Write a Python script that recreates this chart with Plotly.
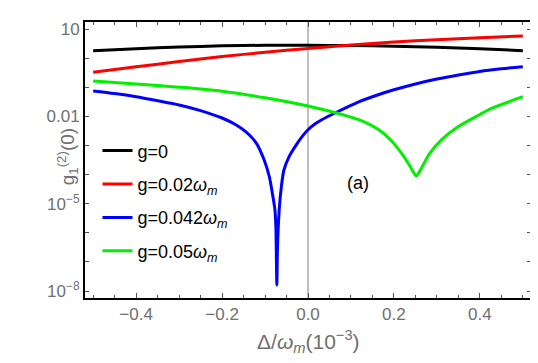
import plotly.graph_objects as go

# detuning samples, Delta/omega_m in units of 1e-3
x_coarse = [-0.5, -0.4, -0.3, -0.2, -0.1, 0.0, 0.1, 0.2, 0.3, 0.4, 0.5]

# g=0 and g=0.02 wm  (values of g1^(2)(0))
g2_g0 = [1.84, 2.14, 2.45, 2.69, 2.82, 2.82, 2.75, 2.63, 2.40, 2.14, 1.84]
g2_g002 = [0.331, 0.513, 0.776, 1.15, 1.62, 2.19, 2.88, 3.63, 4.37, 5.13, 5.89]

# g=0.042 wm : deep antiresonance near -0.073
x_g0042 = [-0.5, -0.45, -0.4, -0.35, -0.3, -0.25, -0.2, -0.17, -0.145, -0.12,
           -0.102, -0.09, -0.083, -0.077, -0.0748, -0.0735, -0.0725, -0.071,
           -0.067, -0.062, -0.056, -0.044, -0.025, -0.012, 0.0, 0.016, 0.033,
           0.064, 0.118, 0.16, 0.2, 0.25, 0.3, 0.35, 0.4, 0.45, 0.5]
g2_g0042 = [7.6e-2, 6.2e-2, 4.8e-2, 3.5e-2, 2.5e-2, 1.6e-2, 8.9e-3, 5.4e-3,
            3.0e-3, 1.2e-3, 3.2e-4, 8.5e-5, 2.3e-5, 6.2e-6, 1.6e-6, 1.2e-7,
            1.6e-8, 3.0e-7, 6.2e-6, 3.9e-5, 1.45e-4, 4.2e-4, 1.2e-3, 2.2e-3,
            3.5e-3, 5.5e-3, 7.9e-3, 1.35e-2, 3.2e-2, 5.4e-2, 8.3e-2, 0.132,
            0.195, 0.269, 0.355, 0.437, 0.519]

# g=0.05 wm : shallower, rounded dip near 0.25
x_g005 = [-0.5, -0.4, -0.3, -0.2, -0.1, 0.0, 0.064, 0.09, 0.118, 0.142, 0.164,
          0.185, 0.204, 0.222, 0.238, 0.246, 0.252, 0.258, 0.266, 0.284, 0.311,
          0.35, 0.4, 0.427, 0.5]
g2_g005 = [0.166, 0.132, 0.102, 7.4e-2, 4.4e-2, 2.3e-2, 1.35e-2, 1.05e-2,
           7.8e-3, 5.5e-3, 3.55e-3, 2.0e-3, 1.0e-3, 4.4e-4, 1.9e-4, 1.17e-4,
           9.1e-5, 1.17e-4, 1.9e-4, 5.6e-4, 1.6e-3, 4.5e-3, 1.17e-2, 1.9e-2,
           4.8e-2]

series = [
    ("g=0", x_coarse, g2_g0, "#000000"),
    ("g=0.02<i>ω</i><sub><i>m</i></sub>", x_coarse, g2_g002, "#ff0000"),
    ("g=0.042<i>ω</i><sub><i>m</i></sub>", x_g0042, g2_g0042, "#0000ff"),
    ("g=0.05<i>ω</i><sub><i>m</i></sub>", x_g005, g2_g005, "#00f000"),
]

y_tickvals = [10, 1, 0.1, 0.01, 1e-3, 1e-4, 1e-5, 1e-6, 1e-7, 1e-8]
y_ticktext = ["10", "", "", "0.01", "", "", "10<sup>−5</sup>", "", "", "10<sup>−8</sup>"]
x_tickvals = [-0.4, -0.2, 0.0, 0.2, 0.4]
x_ticktext = ["−0.4", "−0.2", "0.0", "0.2", "0.4"]

FONT = "Liberation Sans, Arial, sans-serif"
GRAY = "#707070"

fig = go.Figure()
for i, (name, xs, ys, color) in enumerate(series):
    fig.add_trace(go.Scatter(
        x=xs, y=ys, mode="lines", name=name,
        line=dict(color=color, width=3, shape="spline", smoothing=0.8),
        legendgroup=str(i),
    ))

# the page body keeps its 8px margin, so the figure is sized to fit inside it
fig.update_layout(
    width=530, height=347,
    margin=dict(l=77, r=5, t=14, b=57),
    paper_bgcolor="white", plot_bgcolor="white",
    font=dict(family=FONT, color=GRAY, size=17),
    showlegend=True,
    legend=dict(
        x=0.028, y=0.60, xanchor="left", yanchor="top",
        bgcolor="rgba(0,0,0,0)", font=dict(size=18, color="black"),
        tracegroupgap=7, itemwidth=30,
    ),
    xaxis=dict(
        range=[-0.519, 0.519], tickvals=x_tickvals, ticktext=x_ticktext,
        ticks="inside", ticklen=5, tickcolor="#555", tickwidth=1,
        minor=dict(dtick=0.05, tick0=0, ticks="inside", ticklen=3, tickcolor="#555"),
        showline=True, linecolor="black", linewidth=2, mirror="allticks",
        showgrid=False, zeroline=False, tickfont=dict(size=17, color=GRAY),
    ),
    yaxis=dict(
        type="log", range=[-8.24, 1.25],
        tickvals=y_tickvals, ticktext=y_ticktext,
        ticks="inside", ticklen=4, tickcolor="#555", tickwidth=1,
        showline=True, linecolor="black", linewidth=2, mirror="allticks",
        showgrid=False, zeroline=False, tickfont=dict(size=17, color=GRAY),
    ),
)

# x=0 guide and g2=1 reference line (log units on the y axis)
fig.add_shape(type="line", xref="x", yref="paper", x0=0, x1=0, y0=0, y1=1,
              line=dict(color="#808080", width=1), layer="below")
fig.add_shape(type="line", xref="paper", yref="y", x0=0, x1=1, y0=0, y1=0,
              line=dict(color="#c8c8c8", width=1, dash="dash"), layer="below")

fig.add_annotation(text="(a)", xref="x", yref="paper", x=0.116, y=0.415,
                   showarrow=False, font=dict(size=18, color="black"))
fig.add_annotation(text="g<sub>1</sub><sup>(2)</sup>(0)", xref="paper", yref="paper",
                   x=-0.075, y=0.51, textangle=-90, showarrow=False,
                   font=dict(size=19, color=GRAY))
fig.add_annotation(text="Δ/<i>ω</i><sub><i>m</i></sub>(10<sup>−3</sup>)",
                   xref="paper", yref="paper", x=0.5, y=-0.159, yanchor="middle",
                   showarrow=False, font=dict(size=21, color=GRAY))

fig.write_html("out.html")
